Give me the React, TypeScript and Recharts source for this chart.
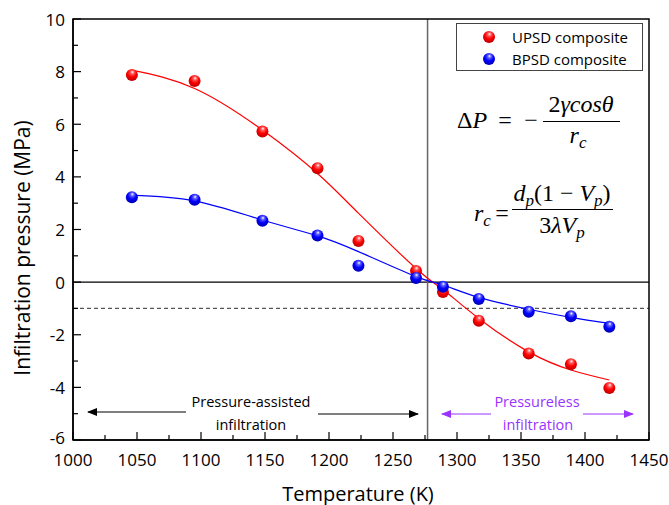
import React from 'react';
import { ComposedChart, Line, Scatter, XAxis, YAxis, ReferenceLine } from 'recharts';

// measured points
const upsdT = [1046, 1095, 1148, 1191, 1223, 1268, 1289, 1317, 1356, 1389, 1419];
const upsdP = [7.87, 7.64, 5.72, 4.33, 1.56, 0.42, -0.38, -1.47, -2.71, -3.12, -4.02];
const bpsdT = [1046, 1095, 1148, 1191, 1223, 1268, 1289, 1317, 1356, 1389, 1419];
const bpsdP = [3.23, 3.13, 2.33, 1.77, 0.62, 0.16, -0.18, -0.64, -1.13, -1.30, -1.70];

// fitted curves
const fitT = [1046, 1095, 1148, 1191, 1223, 1268, 1289, 1317, 1356, 1389, 1419];
const upsdFit = [8.06, 7.36, 5.78, 4.13, 2.62, 0.52, -0.28, -1.38, -2.65, -3.34, -3.72];
const bpsdFit = [3.30, 3.09, 2.36, 1.76, 1.16, 0.21, -0.11, -0.58, -1.03, -1.34, -1.57];

const xTicks = [1000, 1025, 1050, 1075, 1100, 1125, 1150, 1175, 1200, 1225, 1250, 1275, 1300, 1325, 1350, 1375, 1400, 1425, 1450];
const yTicks = [-6, -5, -4, -3, -2, -1, 0, 1, 2, 3, 4, 5, 6, 7, 8, 9, 10];

const transitionT = 1277;
const thresholdP = -1;

const upsd = upsdT.map((t, i) => ({ t, p: upsdP[i] }));
const bpsd = bpsdT.map((t, i) => ({ t, p: bpsdP[i] }));
const upsdCurve = fitT.map((t, i) => ({ t, p: upsdFit[i] }));
const bpsdCurve = fitT.map((t, i) => ({ t, p: bpsdFit[i] }));

const font = '"Open Sans", sans-serif';
const mathFont = '"Liberation Serif", serif';

const Ball = (props: any) => {
  const { cx, cy, fill } = props;
  if (cx == null || cy == null) return null;
  return <circle cx={cx} cy={cy} r={6} fill={fill} />;
};

const XTick = (props: any) => {
  const { x, y, payload } = props;
  const major = payload.value % 50 === 0;
  return (
    <g>
      <line x1={x} x2={x} y1={y} y2={y - (major ? 8 : 5)} stroke="#000" strokeWidth={1.2} />
      {major && (
        <text x={x} y={y + 19} textAnchor="middle" dominantBaseline="central" fontSize={17} fontFamily={font} fill="#000">
          {payload.value}
        </text>
      )}
    </g>
  );
};

const YTick = (props: any) => {
  const { x, y, payload } = props;
  const major = payload.value % 2 === 0;
  return (
    <g>
      <line x1={x} x2={x + (major ? 8 : 5)} y1={y} y2={y} stroke="#000" strokeWidth={1.2} />
      {major && (
        <text x={x - 8} y={payload.value === -6 ? y - 3 : y} textAnchor="end" dominantBaseline="central" fontSize={17} fontFamily={font} fill="#000">
          {payload.value}
        </text>
      )}
    </g>
  );
};

const legendItems = [
  { name: 'UPSD composite', fill: 'url(#ballRed)' },
  { name: 'BPSD composite', fill: 'url(#ballBlue)' },
];

const LegendBox = () => (
  <div style={{ position: 'absolute', left: 456, top: 23, width: 187, height: 48, border: '1px solid #444', background: '#fff', fontFamily: font, fontSize: 15, boxSizing: 'border-box', paddingTop: 2 }}>
    {legendItems.map((it) => (
      <div key={it.name} style={{ display: 'flex', alignItems: 'center', height: 22 }}>
        <svg width={55} height={16}>
          <circle cx={32} cy={8} r={6} fill={it.fill} />
        </svg>
        <span>{it.name}</span>
      </div>
    ))}
  </div>
);

export default function App() {
  return (
    <div style={{ position: 'fixed', left: 0, top: 0, width: 669, height: 505, background: '#fff' }}>
      <ComposedChart width={669} height={505} margin={{ top: 19, right: 20, bottom: 35, left: 0 }}>
        <defs>
          <radialGradient id="ballRed" cx="50%" cy="35%" r="65%" fx="55%" fy="25%">
            <stop offset="0%" stopColor="#ffffff" />
            <stop offset="22%" stopColor="#ff6060" />
            <stop offset="55%" stopColor="#ff0000" />
            <stop offset="100%" stopColor="#b80000" />
          </radialGradient>
          <radialGradient id="ballBlue" cx="50%" cy="35%" r="65%" fx="55%" fy="25%">
            <stop offset="0%" stopColor="#ffffff" />
            <stop offset="22%" stopColor="#6060ff" />
            <stop offset="55%" stopColor="#0000ff" />
            <stop offset="100%" stopColor="#0000b0" />
          </radialGradient>
        </defs>
        <XAxis
          type="number"
          dataKey="t"
          domain={[1000, 1450]}
          ticks={xTicks}
          interval={0}
          tick={<XTick />}
          tickLine={false}
          tickSize={0}
          tickMargin={0}
          height={30}
          axisLine={{ stroke: '#000', strokeWidth: 1.5 }}
          allowDataOverflow
        />
        <YAxis
          type="number"
          dataKey="p"
          domain={[-6, 10]}
          ticks={yTicks}
          interval={0}
          tick={<YTick />}
          tickLine={false}
          tickSize={0}
          tickMargin={0}
          width={73}
          axisLine={{ stroke: '#000', strokeWidth: 1.5 }}
          allowDataOverflow
        />
        <ReferenceLine y={0} stroke="#000" strokeWidth={1.2} />
        <ReferenceLine y={thresholdP} stroke="#555" strokeWidth={1.2} strokeDasharray="4 3" />
        <ReferenceLine x={transitionT} stroke="#666" strokeWidth={1.5} />
        <Line data={upsdCurve} dataKey="p" type="natural" stroke="#ff0000" strokeWidth={1.2} dot={false} isAnimationActive={false} />
        <Line data={bpsdCurve} dataKey="p" type="natural" stroke="#0000ff" strokeWidth={1.2} dot={false} isAnimationActive={false} />
        <Scatter name="UPSD composite" data={upsd} dataKey="p" fill="url(#ballRed)" shape={<Ball />} isAnimationActive={false} />
        <Scatter name="BPSD composite" data={bpsd} dataKey="p" fill="url(#ballBlue)" shape={<Ball />} isAnimationActive={false} />
      </ComposedChart>
      <LegendBox />
      <svg width={669} height={505} style={{ position: 'absolute', left: 0, top: 0, pointerEvents: 'none' }}>
        <defs>
          <marker id="headK" markerWidth={10} markerHeight={8} refX={9} refY={4} orient="auto" markerUnits="userSpaceOnUse">
            <path d="M0,0 L10,4 L0,8 Z" fill="#000" />
          </marker>
          <marker id="headV" markerWidth={10} markerHeight={8} refX={9} refY={4} orient="auto" markerUnits="userSpaceOnUse">
            <path d="M0,0 L10,4 L0,8 Z" fill="#9933ff" />
          </marker>
        </defs>
        <rect x={73} y={19} width={576} height={421} fill="none" stroke="#000" strokeWidth={1.5} />
        <text x={22} y={248} transform="rotate(-90 22 248)" textAnchor="middle" dominantBaseline="central" fontSize={21} fontFamily={font}>
          Infiltration pressure (MPa)
        </text>
        <text x={358} y={493} textAnchor="middle" dominantBaseline="central" fontSize={20} fontFamily={font}>
          Temperature (K)
        </text>

        <line x1={186} y1={412} x2={88} y2={412} stroke="#000" strokeWidth={1} markerEnd="url(#headK)" />
        <line x1={318} y1={414} x2={418} y2={414} stroke="#000" strokeWidth={1} markerEnd="url(#headK)" />
        <text x={251} y={401} textAnchor="middle" dominantBaseline="central" fontSize={14.5} fontFamily={font}>Pressure-assisted</text>
        <text x={251} y={424} textAnchor="middle" dominantBaseline="central" fontSize={14.5} fontFamily={font}>infiltration</text>

        <line x1={491} y1={414} x2={442} y2={414} stroke="#9933ff" strokeWidth={1.2} markerEnd="url(#headV)" />
        <line x1={583} y1={414} x2={633} y2={414} stroke="#9933ff" strokeWidth={1.2} markerEnd="url(#headV)" />
        <text x={537} y={401} textAnchor="middle" dominantBaseline="central" fontSize={14.5} fontFamily={font} fill="#9933ff">Pressureless</text>
        <text x={538} y={424} textAnchor="middle" dominantBaseline="central" fontSize={14.5} fontFamily={font} fill="#9933ff">infiltration</text>

        <g fontFamily={mathFont} fontSize={24} fill="#000">
          <text x={457} y={128} fontStyle="italic"><tspan fontStyle="normal">Δ</tspan>P</text>
          <text x={505} y={128} textAnchor="middle">=</text>
          <text x={531} y={128} textAnchor="middle">−</text>
          <line x1={543} x2={620} y1={121.5} y2={121.5} stroke="#000" strokeWidth={1.2} />
          <text x={581} y={112} textAnchor="middle">2<tspan fontStyle="italic">γcosθ</tspan></text>
          <text x={578} y={143} textAnchor="middle" fontStyle="italic">r<tspan fontSize={17} dy={5}>c</tspan></text>

          <text x={474} y={221} fontStyle="italic">r<tspan fontSize={17} dy={5}>c</tspan></text>
          <text x={502} y={221} textAnchor="middle">=</text>
          <line x1={512} x2={613} y1={209.5} y2={209.5} stroke="#000" strokeWidth={1.2} />
          <text x={562} y={201} textAnchor="middle">
            <tspan fontStyle="italic">d</tspan><tspan fontStyle="italic" fontSize={17} dy={5}>p</tspan>
            <tspan dy={-5}>(1 − </tspan><tspan fontStyle="italic">V</tspan><tspan fontStyle="italic" fontSize={17} dy={5}>p</tspan><tspan dy={-5}>)</tspan>
          </text>
          <text x={562} y={233} textAnchor="middle">
            3<tspan fontStyle="italic">λV</tspan><tspan fontStyle="italic" fontSize={17} dy={5}>p</tspan>
          </text>
        </g>
      </svg>
    </div>
  );
}
